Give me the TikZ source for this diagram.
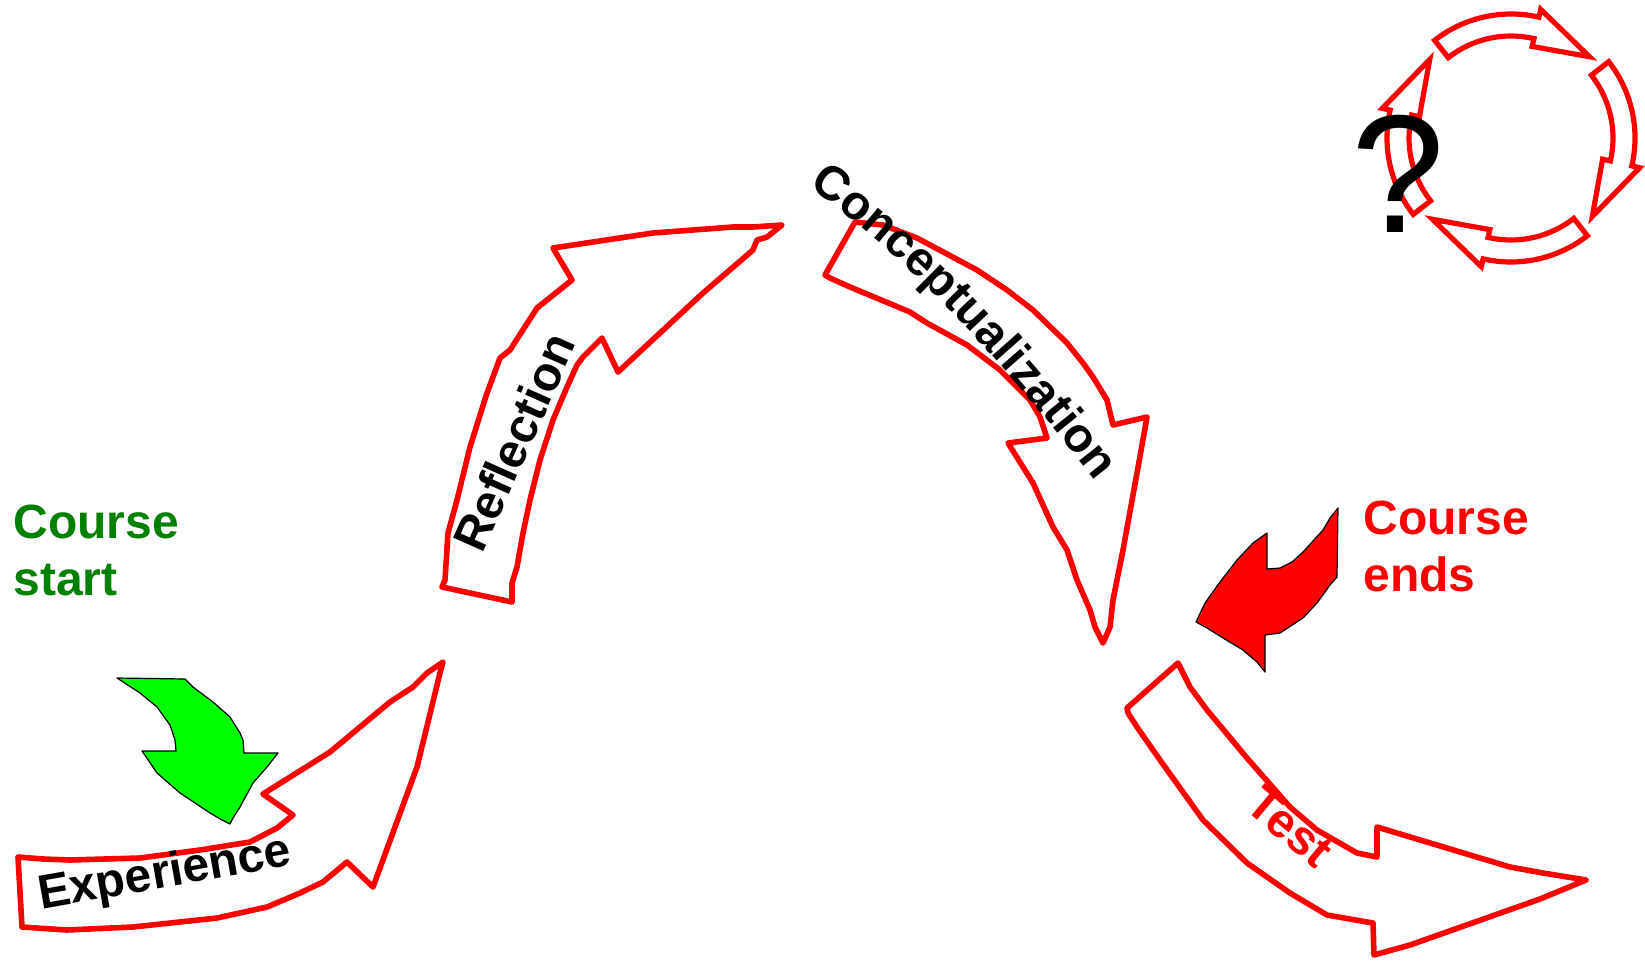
\documentclass[tikz,border=0pt]{standalone}
\usepackage{fontspec}
\setmainfont{Liberation Sans}
\usepackage{tikz}
\usetikzlibrary{decorations.text}
\definecolor{startgreen}{RGB}{0,128,0}
\definecolor{markgreen}{RGB}{0,255,0}
\newcommand\stagefont{\fontsize{24}{28.5}\selectfont\bfseries}
\tikzset{stagearrow/.style={draw=red, line width=2.8pt, line join=round, fill=white}}
\tikzset{ringarrow/.style={draw=red, line width=2.6pt, line join=miter, fill=white}}
\tikzset{markarrow/.style={draw=black, line width=0.6pt, line join=round}}
\tikzset{stagelabel/.style={font=\stagefont, inner sep=0pt}}
\tikzset{courselabel/.style={font=\stagefont, align=left, anchor=north west, inner sep=0pt}}

\begin{document}
\begin{tikzpicture}[x=0.5pt,y=-0.5pt]
\useasboundingbox (0,0) rectangle (1645,960);
% the four stages
\draw[stagearrow] (22,927) -- (18,857) -- (43,859) -- (70,860) -- (140,858) -- (200,850) -- (250,842) -- (277,828) -- (293,815) -- (263,794) -- (330,752) -- (390,702) -- (413,687) -- (427,673) -- (443,662) -- (440,673) -- (417,767) -- (373,887) -- (347,862) -- (323,882) -- (300,893) -- (267,907) -- (217,918) -- (133,927) -- (67,930) -- cycle;
\draw[stagearrow] (442,587) -- (512,602) -- (512,583) -- (517,567) -- (523,533) -- (530,500) -- (540,460) -- (553,420) -- (567,387) -- (577,365) -- (583,357) -- (602,338) -- (618,372) -- (703,293) -- (753,250) -- (757,240) -- (767,237) -- (782,225) -- (753,227) -- (733,227) -- (653,233) -- (553,248) -- (572,280) -- (557,292) -- (537,308) -- (510,350) -- (500,358) -- (487,393) -- (470,447) -- (457,500) -- (448,533) -- (445,580) -- cycle;
\draw[stagearrow] (855,222) -- (825,275) -- (830,278) -- (850,287) -- (910,312) -- (927,323) -- (967,345) -- (1000,370) -- (1030,400) -- (1040,417) -- (1047,438) -- (1008,443) -- (1033,483) -- (1053,527) -- (1067,550) -- (1077,580) -- (1090,610) -- (1095,627) -- (1103,643) -- (1110,627) -- (1113,600) -- (1123,550) -- (1137,473) -- (1147,417) -- (1113,425) -- (1107,400) -- (1093,377) -- (1083,363) -- (1067,343) -- (1033,310) -- (1007,290) -- (977,270) -- (917,238) -- (883,225) -- cycle;
\draw[stagearrow] (1178,663) -- (1127,708) -- (1128,713) -- (1137,727) -- (1160,760) -- (1203,820) -- (1247,863) -- (1290,893) -- (1327,915) -- (1373,923) -- (1374,955) -- (1410,945) -- (1540,899) -- (1586,880) -- (1543,873) -- (1510,867) -- (1377,827) -- (1377,857) -- (1357,853) -- (1317,830) -- (1290,807) -- (1247,758) -- (1207,710) -- (1190,687) -- cycle;
% start and end markers
\draw[markarrow, fill=markgreen] (117,678) -- (185,679) -- (193,687) -- (213,702) -- (230,717) -- (240,733) -- (243,740) -- (244,753) -- (278,753) -- (267,767) -- (253,783) -- (240,807) -- (233,818) -- (230,824) -- (222,820) -- (210,813) -- (180,793) -- (157,773) -- (142,751) -- (176,751) -- (175,740) -- (170,725) -- (157,707) -- (140,693) -- cycle;
\draw[markarrow, fill=red] (1338,508) -- (1337,577) -- (1330,585) -- (1317,603) -- (1303,618) -- (1280,633) -- (1265,635) -- (1265,672) -- (1257,662) -- (1243,650) -- (1223,638) -- (1207,628) -- (1196,622) -- (1205,603) -- (1220,582) -- (1237,560) -- (1253,543) -- (1267,533) -- (1267,569) -- (1280,568) -- (1292,562) -- (1303,552) -- (1323,530) -- (1330,518) -- cycle;
% labels
\node[stagelabel, rotate=10] (experience) at (165,875) {Experience};
\node[stagelabel, rotate=66] (reflection) at (514,442) {Reflection};
\path[decorate, decoration={text along path, text={|\stagefont|Conceptualization}}] (808,187) .. controls (915,261) and (1006,367) .. (1087,470) -- (1140,540);
\node[stagelabel, rotate=-40, text=red] (test) at (1290,827) {Test};
\node[courselabel, text=startgreen] (coursestart) at (13,505) {Course\\start};
\node[courselabel, text=red] (courseends) at (1363,501) {Course\\ends};
% ring of arrows
\begin{scope}[shift={(1511,138)}]
\foreach \a in {-128,-38,52,142} {
	\draw[ringarrow] (\a:124) arc[start angle=\a, end angle=\a+51, radius=124] -- (\a+51:132) -- (\a+82:113) -- (\a+51:94) -- (\a+51:102) arc[start angle=\a+51, end angle=\a, radius=102] -- cycle;
}
\end{scope}
\node[font=\fontsize{84}{84}\selectfont, anchor=base, inner sep=0pt] (question) at (1398,232) {?};
\end{tikzpicture}
\end{document}
